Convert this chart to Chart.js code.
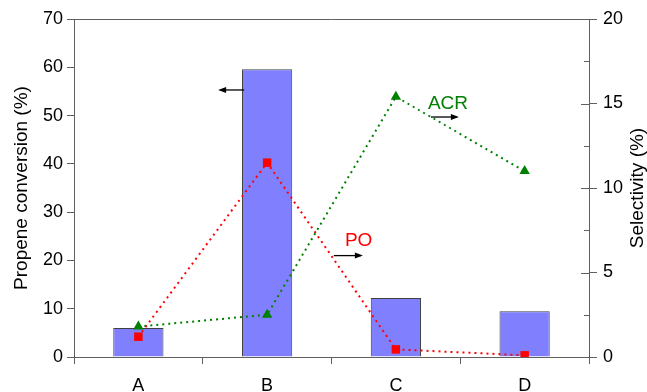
<!DOCTYPE html>
<html>
<head>
<meta charset="utf-8">
<script src="https://cdn.jsdelivr.net/npm/chart.js@4.4.0/dist/chart.umd.min.js"></script>
<style>
  html, body { margin: 0; padding: 0; background: #fff; }
  #wrap { width: 647px; height: 392px; }
</style>
</head>
<body>
<div id="wrap"><canvas id="myChart"></canvas></div>
<script>
const categories = ["A", "B", "C", "D"];
const conversion = [6.0, 59.6, 12.2, 9.5];
const acrSelectivity = [1.8, 2.5, 15.4, 11.0];
const poSelectivity = [1.2, 11.5, 0.45, 0.1];
const leftTicks = [0, 10, 20, 30, 40, 50, 60, 70];
const rightTicks = [0, 5, 10, 15, 20];

const FONT = "'Liberation Sans', Arial, sans-serif";

// frame, inner ticks, right title and the little arrows / labels
const extras = {
  id: "extras",
  afterDraw(chart) {
    const ctx = chart.ctx;
    const a = chart.chartArea;
    const x = chart.scales.x, y = chart.scales.y, y1 = chart.scales.y1;
    ctx.save();
    ctx.strokeStyle = "#606060";
    ctx.lineWidth = 1;
    // top border
    ctx.beginPath();
    ctx.moveTo(a.left, a.top + 0.5);
    ctx.lineTo(a.right, a.top + 0.5);
    ctx.stroke();
    // right axis: major ticks also go inside, minor ticks inside only
    for (let v = 0; v <= 20; v += 2.5) {
      const py = Math.round(y1.getPixelForValue(v)) + 0.5;
      const len = v % 5 === 0 ? 8 : 5;
      ctx.beginPath();
      ctx.moveTo(a.right - len, py);
      ctx.lineTo(a.right, py);
      ctx.stroke();
    }
    // right title, bottom-to-top like the left one
    ctx.fillStyle = "#000";
    ctx.font = "19px " + FONT;
    ctx.textAlign = "center";
    ctx.textBaseline = "middle";
    ctx.translate(638, (a.top + a.bottom) / 2);
    ctx.rotate(-Math.PI / 2);
    ctx.fillText("Selectivity (%)", 0, 0);
    ctx.restore();

    const arrow = (x0, x1, py) => {
      ctx.save();
      ctx.strokeStyle = "#000";
      ctx.fillStyle = "#000";
      ctx.lineWidth = 1.3;
      ctx.beginPath();
      ctx.moveTo(x0, py);
      ctx.lineTo(x1, py);
      ctx.stroke();
      const d = Math.sign(x1 - x0);
      ctx.beginPath();
      ctx.moveTo(x1 + d * 2, py);
      ctx.lineTo(x1 - d * 6, py - 3);
      ctx.lineTo(x1 - d * 6, py + 3);
      ctx.closePath();
      ctx.fill();
      ctx.restore();
    };
    const bx = x.getPixelForValue(1);
    arrow(bx - 23, bx - 47, y.getPixelForValue(55.3));
    const cx = x.getPixelForValue(2);
    arrow(cx + 35, cx + 61, y1.getPixelForValue(14.2));
    arrow(cx - 62, cx - 35, y1.getPixelForValue(6.0));

    ctx.save();
    ctx.font = "19px " + FONT;
    ctx.textAlign = "left";
    ctx.textBaseline = "middle";
    ctx.fillStyle = "#008000";
    ctx.fillText("ACR", cx + 32, y1.getPixelForValue(15.0));
    ctx.fillStyle = "#FF0000";
    ctx.fillText("PO", cx - 51, y1.getPixelForValue(6.9));
    ctx.restore();
  }
};

new Chart("myChart", {
  type: "bar",
  data: {
    labels: categories,
    datasets: [{
      label: "ACR",
      type: "line",
      data: acrSelectivity,
      yAxisID: "y1",
      borderColor: "#008000",
      backgroundColor: "#008000",
      borderWidth: 2,
      borderDash: [2, 4],
      pointStyle: "triangle",
      pointRadius: 6,
      pointBorderWidth: 0,
      fill: false,
      order: 1
    }, {
      label: "PO",
      type: "line",
      data: poSelectivity,
      yAxisID: "y1",
      borderColor: "#FF0000",
      backgroundColor: "#FF0000",
      borderWidth: 2,
      borderDash: [2, 4],
      pointStyle: "rect",
      pointRadius: 6,
      pointBorderWidth: 0,
      fill: false,
      order: 2
    }, {
      label: "Conversion",
      data: conversion,
      yAxisID: "y",
      backgroundColor: "#8080FF",
      borderColor: "#404040",
      borderWidth: 1,
      barPercentage: 0.39,
      categoryPercentage: 1,
      order: 3
    }]
  },
  options: {
    responsive: true,
    maintainAspectRatio: false,
    animation: false,
    layout: { padding: { top: 19 } },
    plugins: {
      legend: { display: false },
      tooltip: { enabled: false }
    },
    scales: {
      x: {
        afterFit(s) { s.height = 35; },
        grid: {
          offset: true,
          drawOnChartArea: false,
          tickLength: 7,
          color: "#606060"
        },
        border: { color: "#606060" },
        ticks: { color: "#000", font: { family: FONT, size: 18 }, padding: 11 }
      },
      y: {
        position: "left",
        min: 0,
        max: 70,
        afterFit(s) { s.width = 74; },
        afterBuildTicks(s) { s.ticks = leftTicks.map(v => ({ value: v })); },
        grid: { drawOnChartArea: false, tickLength: 7, color: "#606060" },
        border: { color: "#606060" },
        ticks: { color: "#000", font: { family: FONT, size: 18 }, padding: 4 },
        title: {
          display: true,
          text: "Propene conversion (%)",
          color: "#000",
          font: { family: FONT, size: 19 },
          padding: { top: 10, bottom: 2 }
        }
      },
      y1: {
        position: "right",
        min: 0,
        max: 20,
        afterFit(s) { s.width = 58; },
        afterBuildTicks(s) { s.ticks = rightTicks.map(v => ({ value: v })); },
        grid: { drawOnChartArea: false, tickLength: 8, color: "#606060" },
        border: { color: "#606060" },
        ticks: { color: "#000", font: { family: FONT, size: 18 }, padding: 6 }
      }
    }
  },
  plugins: [extras]
});
</script>
</body>
</html>
